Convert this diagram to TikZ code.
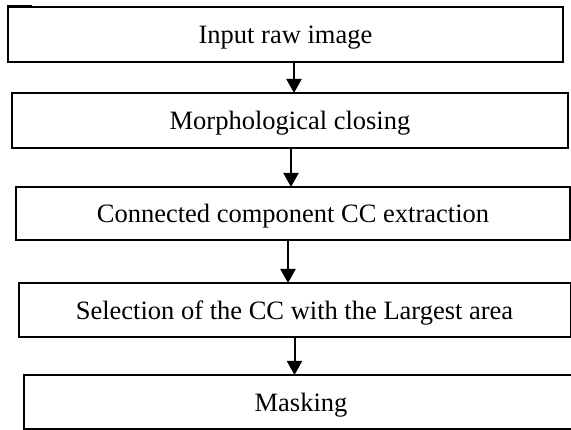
\documentclass[tikz,border=0pt]{standalone}
\usepackage{fontspec}
\setmainfont{Liberation Serif}
\usetikzlibrary{arrows.meta}

\tikzset{
  stagebox/.style={draw=black, line width=2pt, fill=white, inner sep=0pt,
    text depth=0pt, font=\fontsize{26.5}{30}\selectfont},
  flowarrow/.style={draw=black, line width=2pt,
    -{Triangle[width=15pt,length=14pt]}, shorten >=-1pt}
}

\begin{document}
\begin{tikzpicture}[x=1pt, y=-1pt]
  % page frame
  \useasboundingbox (0,0) rectangle (571,430);
  \clip (0,0) rectangle (571,430);

  % processing stages
  \node[stagebox, minimum width=555pt, minimum height=54.5pt] (raw)
    at (285.5,34.75) {Input raw image};
  \node[stagebox, minimum width=556pt, minimum height=55pt] (close)
    at (290,120.5) {Morphological closing};
  \node[stagebox, minimum width=554pt, minimum height=53pt] (cc)
    at (293,213.5) {Connected component CC extraction};
  \node[stagebox, minimum width=552pt, minimum height=54pt] (largest)
    at (294.5,310) {Selection of the CC with the Largest area};
  \node[stagebox, minimum width=554pt, minimum height=54pt] (mask)
    at (301,402) {Masking};

  % small stroke on the first box's top edge
  \draw[line width=1.5pt] (raw.north west) ++(0,-0.8) -- ++(25,0);

  % flow between the stages
  \draw[flowarrow] (raw.south -| 294,0) -- (close.north -| 294,0);
  \draw[flowarrow] (close.south -| 291,0) -- (cc.north -| 291,0);
  \draw[flowarrow] (cc.south -| 288,0) -- (largest.north -| 288,0);
  \draw[flowarrow] (largest.south -| 294.5,0) -- (mask.north -| 294.5,0);
\end{tikzpicture}
\end{document}
